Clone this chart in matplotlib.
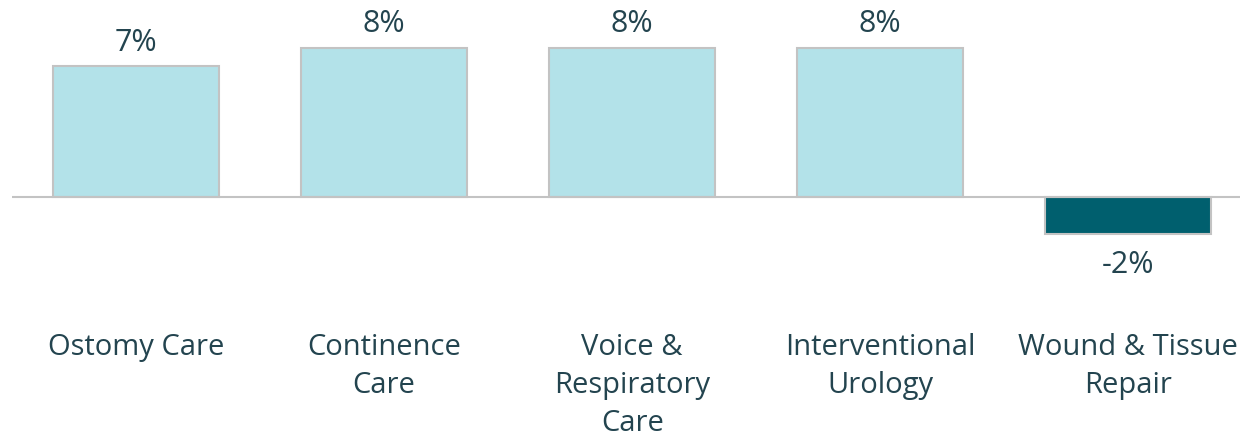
import matplotlib
matplotlib.use("Agg")
import matplotlib.pyplot as plt
import matplotlib.transforms as mtransforms

categories = ["Ostomy Care", "Continence\nCare", "Voice &\nRespiratory\nCare",
              "Interventional\nUrology", "Wound & Tissue\nRepair"]
values = [7, 8, 8, 8, -2]
value_labels = ["7%", "8%", "8%", "8%", "-2%"]

plt.rcParams['font.family'] = ['Open Sans', 'DejaVu Sans']
text_color = "#23444f"
light = "#b3e2e9"
dark = "#005f6e"
edge = "#c3c3c3"

fig = plt.figure(figsize=(12.4, 4.4), dpi=100)
ax = fig.add_axes([12 / 1240, 0, 1228 / 1240, 1])
ax.set_axis_off()

x = list(range(len(values)))
colors = [light if v >= 0 else dark for v in values]
ax.bar(x, values, width=0.67, color=colors, edgecolor=edge, linewidth=1.5, zorder=2)
ax.axhline(0, color=edge, linewidth=1.5, zorder=3)

ax.set_xlim(-0.5, 4.45)
ax.set_ylim(-13.03, 10.56)

for xi, v, lab in zip(x, values, value_labels):
    if v >= 0:
        ax.annotate(lab, (xi, v), xytext=(0, 6), textcoords="offset points",
                    ha="center", va="bottom", fontsize=22, color=text_color)
    else:
        ax.annotate(lab, (xi, v), xytext=(0, -11), textcoords="offset points",
                    ha="center", va="top", fontsize=22, color=text_color)

trans = mtransforms.blended_transform_factory(ax.transData, ax.transAxes)
for xi, cat in zip(x, categories):
    ax.text(xi, 1 - 333 / 440, cat, transform=trans, ha="center", va="top",
            fontsize=21, color=text_color, linespacing=1.42)

fig.savefig("out.png", dpi=100)
